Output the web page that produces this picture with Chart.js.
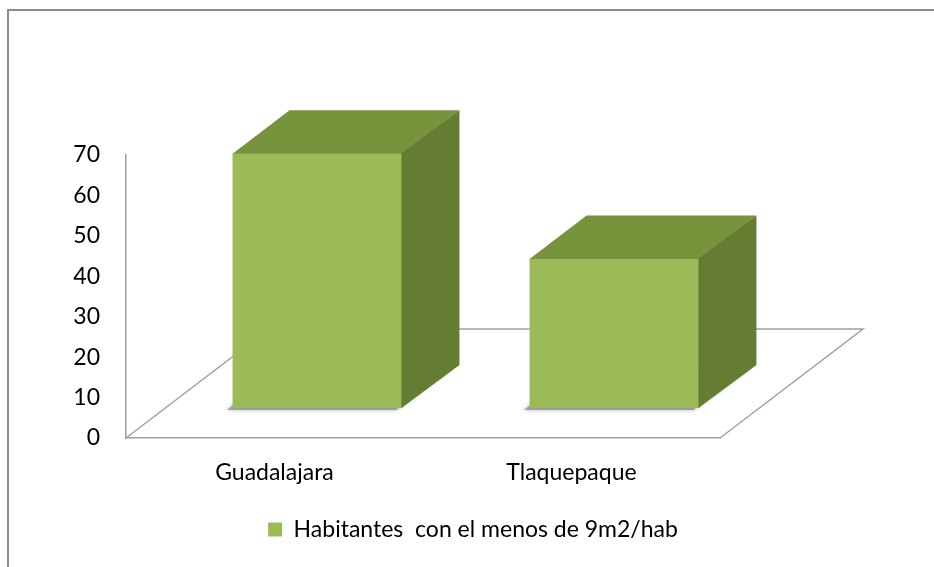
<!DOCTYPE html>
<html>
<head>
<meta charset="utf-8">
<script src="https://cdn.jsdelivr.net/npm/chart.js@4/dist/chart.umd.min.js"></script>
<style>
  html, body { margin: 0; padding: 0; background: #fff; overflow: hidden; }
</style>
</head>
<body>
<canvas id="myChart" width="934" height="567"></canvas>
<script>
let categorias = ['Guadalajara', 'Tlaquepaque'];
let habitantes = [63, 37];
let ticksY = [0, 10, 20, 30, 40, 50, 60, 70];
let serie = 'Habitantes  con el menos de 9m2/hab';

// efecto 3d, en px
let piso = { dx: 143, dy: 109 };
let barraPos = { dx: 43, dy: 30 };
let barraProf = { dx: 57, dy: 43 };

let verde = '#9bbb59';
let verdeTop = '#77933c';
let verdeLado = '#657d33';
let gris = '#a0a0a0';
let fuente = 'Lato, "Open Sans", sans-serif';

function caras(bar) {
   let l = bar.x - bar.width / 2 + barraPos.dx;
   let r = bar.x + bar.width / 2 + barraPos.dx;
   let t = bar.y - barraPos.dy;
   let b = bar.base - barraPos.dy;
   return { l, r, t, b };
}

let cubo = {
   id: 'cubo',
   beforeDraw(chart) {
      let ctx = chart.ctx;
      ctx.save();
      ctx.fillStyle = '#fff';
      ctx.fillRect(0, 0, chart.width, chart.height);
      // marco
      ctx.strokeStyle = '#8c8c8c';
      ctx.lineWidth = 2;
      ctx.beginPath();
      ctx.moveTo(8, chart.height + 2);
      ctx.lineTo(8, 10);
      ctx.lineTo(chart.width + 2, 10);
      ctx.stroke();
      ctx.restore();
   },
   beforeDatasetsDraw(chart) {
      let ctx = chart.ctx;
      let a = chart.chartArea;
      ctx.save();
      ctx.strokeStyle = gris;
      ctx.lineWidth = 1.5;
      ctx.beginPath();
      ctx.moveTo(a.right, a.bottom);
      ctx.lineTo(a.right + piso.dx, a.bottom - piso.dy);
      ctx.lineTo(a.left + piso.dx, a.bottom - piso.dy);
      ctx.lineTo(a.left, a.bottom);
      ctx.stroke();

      // sombra
      chart.getDatasetMeta(0).data.forEach(bar => {
         let c = caras(bar);
         ctx.save();
         ctx.shadowColor = 'rgba(0,0,0,0.45)';
         ctx.shadowBlur = 5;
         ctx.fillStyle = 'rgba(120,120,120,0.6)';
         ctx.beginPath();
         ctx.moveTo(c.l - 6, c.b + 2);
         ctx.lineTo(c.r - 6, c.b + 2);
         ctx.lineTo(c.r + barraProf.dx - 6, c.b - barraProf.dy + 2);
         ctx.lineTo(c.l + barraProf.dx - 6, c.b - barraProf.dy + 2);
         ctx.closePath();
         ctx.fill();
         ctx.restore();
      });
      ctx.restore();

      ctx.save();
      ctx.translate(barraPos.dx, -barraPos.dy);
   },
   afterDatasetsDraw(chart) {
      let ctx = chart.ctx;
      ctx.restore();
      ctx.save();
      chart.getDatasetMeta(0).data.forEach(bar => {
         let c = caras(bar);
         ctx.fillStyle = verdeTop;
         ctx.beginPath();
         ctx.moveTo(c.l, c.t + 0.5);
         ctx.lineTo(c.r, c.t + 0.5);
         ctx.lineTo(c.r + barraProf.dx, c.t - barraProf.dy);
         ctx.lineTo(c.l + barraProf.dx, c.t - barraProf.dy);
         ctx.closePath();
         ctx.fill();

         ctx.fillStyle = verdeLado;
         ctx.beginPath();
         ctx.moveTo(c.r - 1, c.t);
         ctx.lineTo(c.r + barraProf.dx, c.t - barraProf.dy);
         ctx.lineTo(c.r + barraProf.dx, c.b - barraProf.dy);
         ctx.lineTo(c.r - 1, c.b);
         ctx.closePath();
         ctx.fill();
      });
      ctx.restore();
   }
};

let ctx = document.getElementById('myChart').getContext('2d');
let chart = new Chart(ctx, {
   type: 'bar',
   data: {
      labels: categorias,
      datasets: [{
         label: serie,
         data: habitantes,
         backgroundColor: verde,
         borderWidth: 0,
         barPercentage: 0.572,
         categoryPercentage: 1,
         clip: false
      }]
   },
   options: {
      responsive: false,
      devicePixelRatio: 1,
      animation: false,
      layout: { padding: { left: 12, right: 0, top: 155, bottom: 16 } },
      plugins: {
         tooltip: { enabled: false },
         legend: {
            position: 'bottom',
            labels: {
               boxWidth: 14,
               boxHeight: 14,
               padding: 10,
               color: '#000',
               font: { family: fuente, size: 23 }
            }
         }
      },
      scales: {
         x: {
            grid: { display: false, drawTicks: false },
            border: { display: true, color: gris, width: 1.5 },
            ticks: { color: '#000', padding: 21, font: { family: fuente, size: 23 } },
            afterFit: s => { s.height = 70; }
         },
         y: {
            min: 0,
            max: 70,
            grid: { display: false, drawTicks: false },
            border: { display: true, color: gris, width: 1.5 },
            ticks: { color: '#000', padding: 26, font: { family: fuente, size: 23 } },
            afterBuildTicks: s => { s.ticks = ticksY.map(v => ({ value: v })); },
            afterFit: s => { s.width = 114; }
         },
         derecha: {
            position: 'right',
            grid: { display: false },
            border: { display: false },
            ticks: { display: false },
            afterFit: s => { s.width = 214; }
         }
      }
   },
   plugins: [cubo]
});
</script>
</body>
</html>
